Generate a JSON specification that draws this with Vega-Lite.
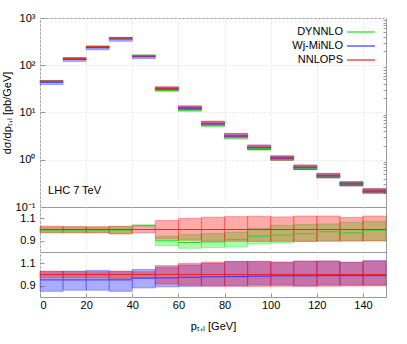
{
  "$schema": "https://vega.github.io/schema/vega-lite/v6.json",
  "padding": {"left": 0, "top": 11, "right": 5, "bottom": 5},
  "spacing": 0,
  "bounds": "flush",
  "config": {
    "font": "Liberation Sans",
    "view": {"stroke": "#999999", "strokeWidth": 1},
    "axis": {"labelFontSize": 11, "titleFontSize": 11, "titleFontWeight": "normal", "labelColor": "#000", "titleColor": "#000", "gridColor": "#e4e4e4", "gridDash": [2, 2], "tickColor": "#999", "domain": false, "labelOverlap": false},
    "legend": {"labelFontSize": 11, "labelColor": "#000"}
  },
  "resolve": {"scale": {"stroke": "independent", "fill": "independent"}, "legend": {"stroke": "independent", "fill": "independent"}},
  "datasets": {
    "h": [
      {"lo": 0, "hi": 10, "s": "DYNNLO", "y": 45.77, "ylo": 44.85, "yhi": 46.92, "r": 0.995, "rlo": 0.975, "rhi": 1.02},
      {"lo": 10, "hi": 20, "s": "DYNNLO", "y": 139.3, "ylo": 136.5, "yhi": 142.8, "r": 0.995, "rlo": 0.975, "rhi": 1.02},
      {"lo": 20, "hi": 30, "s": "DYNNLO", "y": 245.8, "ylo": 240.8, "yhi": 251.9, "r": 0.995, "rlo": 0.975, "rhi": 1.02},
      {"lo": 30, "hi": 40, "s": "DYNNLO", "y": 376.1, "ylo": 364.8, "yhi": 387.5, "r": 0.995, "rlo": 0.965, "rhi": 1.025},
      {"lo": 40, "hi": 50, "s": "DYNNLO", "y": 162.7, "ylo": 161.7, "yhi": 163.6, "r": 1.036, "rlo": 1.03, "rhi": 1.042},
      {"lo": 50, "hi": 60, "s": "DYNNLO", "y": 29.25, "ylo": 27.85, "yhi": 30.55, "r": 0.9, "rlo": 0.857, "rhi": 0.94},
      {"lo": 60, "hi": 70, "s": "DYNNLO", "y": 11.15, "ylo": 10.5, "yhi": 12.03, "r": 0.885, "rlo": 0.833, "rhi": 0.955},
      {"lo": 70, "hi": 80, "s": "DYNNLO", "y": 5.251, "ylo": 4.956, "yhi": 5.694, "r": 0.89, "rlo": 0.84, "rhi": 0.965},
      {"lo": 80, "hi": 90, "s": "DYNNLO", "y": 2.939, "ylo": 2.729, "yhi": 3.152, "r": 0.91, "rlo": 0.845, "rhi": 0.976},
      {"lo": 90, "hi": 100, "s": "DYNNLO", "y": 1.72, "ylo": 1.592, "yhi": 1.848, "r": 0.94, "rlo": 0.87, "rhi": 1.01},
      {"lo": 100, "hi": 110, "s": "DYNNLO", "y": 1.0355, "ylo": 0.9592, "yhi": 1.129, "r": 0.95, "rlo": 0.88, "rhi": 1.036},
      {"lo": 110, "hi": 120, "s": "DYNNLO", "y": 0.6652, "ylo": 0.6169, "yhi": 0.7211, "r": 0.964, "rlo": 0.894, "rhi": 1.045},
      {"lo": 120, "hi": 130, "s": "DYNNLO", "y": 0.4508, "ylo": 0.414, "yhi": 0.483, "r": 0.98, "rlo": 0.9, "rhi": 1.05},
      {"lo": 130, "hi": 140, "s": "DYNNLO", "y": 0.3007, "ylo": 0.279, "yhi": 0.3298, "r": 0.97, "rlo": 0.9, "rhi": 1.064},
      {"lo": 140, "hi": 150, "s": "DYNNLO", "y": 0.2167, "ylo": 0.1962, "yhi": 0.2339, "r": 0.994, "rlo": 0.9, "rhi": 1.073},
      {"lo": 0, "hi": 10, "s": "Wj-MiNLO", "y": 43.79, "ylo": 39.1, "yhi": 47.24, "r": 0.952, "rlo": 0.85, "rhi": 1.027},
      {"lo": 10, "hi": 20, "s": "Wj-MiNLO", "y": 133.3, "ylo": 120.4, "yhi": 144.2, "r": 0.952, "rlo": 0.86, "rhi": 1.03},
      {"lo": 20, "hi": 30, "s": "Wj-MiNLO", "y": 235.1, "ylo": 212.4, "yhi": 255.9, "r": 0.952, "rlo": 0.86, "rhi": 1.036},
      {"lo": 30, "hi": 40, "s": "Wj-MiNLO", "y": 359.9, "ylo": 321.3, "yhi": 388.2, "r": 0.952, "rlo": 0.85, "rhi": 1.027},
      {"lo": 40, "hi": 50, "s": "Wj-MiNLO", "y": 151.8, "ylo": 138.2, "yhi": 164.1, "r": 0.967, "rlo": 0.88, "rhi": 1.045},
      {"lo": 50, "hi": 60, "s": "Wj-MiNLO", "y": 31.53, "ylo": 28.93, "yhi": 34.68, "r": 0.97, "rlo": 0.89, "rhi": 1.067},
      {"lo": 60, "hi": 70, "s": "Wj-MiNLO", "y": 12.3, "ylo": 11.26, "yhi": 13.67, "r": 0.976, "rlo": 0.894, "rhi": 1.085},
      {"lo": 70, "hi": 80, "s": "Wj-MiNLO", "y": 5.782, "ylo": 5.31, "yhi": 6.49, "r": 0.98, "rlo": 0.9, "rhi": 1.1},
      {"lo": 80, "hi": 90, "s": "Wj-MiNLO", "y": 3.172, "ylo": 2.907, "yhi": 3.611, "r": 0.982, "rlo": 0.9, "rhi": 1.118},
      {"lo": 90, "hi": 100, "s": "Wj-MiNLO", "y": 1.8026, "ylo": 1.658, "yhi": 2.04, "r": 0.985, "rlo": 0.906, "rhi": 1.115},
      {"lo": 100, "hi": 110, "s": "Wj-MiNLO", "y": 1.0769, "ylo": 0.9875, "yhi": 1.2055, "r": 0.988, "rlo": 0.906, "rhi": 1.106},
      {"lo": 110, "hi": 120, "s": "Wj-MiNLO", "y": 0.6817, "ylo": 0.621, "yhi": 0.7714, "r": 0.988, "rlo": 0.9, "rhi": 1.118},
      {"lo": 120, "hi": 130, "s": "Wj-MiNLO", "y": 0.4554, "ylo": 0.4168, "yhi": 0.5152, "r": 0.99, "rlo": 0.906, "rhi": 1.12},
      {"lo": 130, "hi": 140, "s": "Wj-MiNLO", "y": 0.3069, "ylo": 0.2809, "yhi": 0.3441, "r": 0.99, "rlo": 0.906, "rhi": 1.11},
      {"lo": 140, "hi": 150, "s": "Wj-MiNLO", "y": 0.2158, "ylo": 0.1975, "yhi": 0.245, "r": 0.99, "rlo": 0.906, "rhi": 1.124},
      {"lo": 0, "hi": 10, "s": "NNLOPS", "y": 46, "ylo": 44.62, "yhi": 47.38, "r": 1, "rlo": 0.97, "rhi": 1.03},
      {"lo": 10, "hi": 20, "s": "NNLOPS", "y": 140, "ylo": 135.8, "yhi": 143.78, "r": 1, "rlo": 0.97, "rhi": 1.027},
      {"lo": 20, "hi": 30, "s": "NNLOPS", "y": 247, "ylo": 239.59, "yhi": 253.18, "r": 1, "rlo": 0.97, "rhi": 1.025},
      {"lo": 30, "hi": 40, "s": "NNLOPS", "y": 378, "ylo": 362.88, "yhi": 389.34, "r": 1, "rlo": 0.96, "rhi": 1.03},
      {"lo": 40, "hi": 50, "s": "NNLOPS", "y": 157, "ylo": 152.29, "yhi": 160.93, "r": 1, "rlo": 0.97, "rhi": 1.025},
      {"lo": 50, "hi": 60, "s": "NNLOPS", "y": 32.5, "ylo": 29.74, "yhi": 35.1, "r": 1, "rlo": 0.915, "rhi": 1.08},
      {"lo": 60, "hi": 70, "s": "NNLOPS", "y": 12.6, "ylo": 11.4, "yhi": 13.86, "r": 1, "rlo": 0.905, "rhi": 1.1},
      {"lo": 70, "hi": 80, "s": "NNLOPS", "y": 5.9, "ylo": 5.28, "yhi": 6.55, "r": 1, "rlo": 0.895, "rhi": 1.11},
      {"lo": 80, "hi": 90, "s": "NNLOPS", "y": 3.23, "ylo": 2.891, "yhi": 3.601, "r": 1, "rlo": 0.895, "rhi": 1.115},
      {"lo": 90, "hi": 100, "s": "NNLOPS", "y": 1.83, "ylo": 1.636, "yhi": 2.046, "r": 1, "rlo": 0.894, "rhi": 1.118},
      {"lo": 100, "hi": 110, "s": "NNLOPS", "y": 1.09, "ylo": 0.9756, "yhi": 1.212, "r": 1, "rlo": 0.895, "rhi": 1.112},
      {"lo": 110, "hi": 120, "s": "NNLOPS", "y": 0.69, "ylo": 0.6169, "yhi": 0.7728, "r": 1, "rlo": 0.894, "rhi": 1.12},
      {"lo": 120, "hi": 130, "s": "NNLOPS", "y": 0.46, "ylo": 0.4117, "yhi": 0.5152, "r": 1, "rlo": 0.895, "rhi": 1.12},
      {"lo": 130, "hi": 140, "s": "NNLOPS", "y": 0.31, "ylo": 0.2781, "yhi": 0.3435, "r": 1, "rlo": 0.897, "rhi": 1.108},
      {"lo": 140, "hi": 150, "s": "NNLOPS", "y": 0.218, "ylo": 0.1958, "yhi": 0.2442, "r": 1, "rlo": 0.898, "rhi": 1.12}
    ]
  },
  "vconcat": [
    {
      "width": 346,
      "height": 189,
      "data": {"name": "h"},
      "resolve": {"axis": {"y": "independent"}},
      "layer": [
        {
          "mark": {"type": "rect", "fillOpacity": 0.33, "strokeOpacity": 0.35, "strokeWidth": 1},
          "encoding": {
            "x": {"field": "lo", "type": "quantitative", "scale": {"domain": [0, 150], "nice": false, "zero": false},
                  "axis": {"values": [0, 20, 40, 60, 80, 100, 120, 140], "labels": false, "ticks": false, "grid": true, "title": null}},
            "x2": {"field": "hi"},
            "y": {"field": "ylo", "type": "quantitative", "scale": {"type": "log", "domain": [0.1, 1000], "nice": false},
                  "axis": {"orient": "left", "values": [0.1, 1, 10, 100, 1000], "tickSize": -5, "labelPadding": 10, "grid": true,
                           "labelExpr": "datum.value == 1000 ? '10³' : datum.value == 100 ? '10²' : datum.value == 10 ? '10¹' : datum.value == 1 ? '10⁰' : '10⁻¹'",
                           "title": "dσ/dpₜ,ₗ [pb/GeV]", "titlePadding": 3}},
            "y2": {"field": "yhi"},
            "fill": {"field": "s", "type": "nominal", "scale": {"domain": ["DYNNLO", "Wj-MiNLO", "NNLOPS"], "range": ["#00ff00", "#0000ff", "#ff0000"]}, "legend": null},
            "stroke": {"field": "s", "type": "nominal", "scale": {"domain": ["DYNNLO", "Wj-MiNLO", "NNLOPS"], "range": ["#22dd22", "#3333ff", "#ee2222"]}, "legend": null}
          }
        },
        {
          "mark": {"type": "rule", "strokeWidth": 1},
          "encoding": {
            "x": {"field": "lo", "type": "quantitative"},
            "x2": {"field": "hi"},
            "y": {"field": "y", "type": "quantitative",
                  "axis": {"orient": "right", "values": [0.2, 0.3, 0.4, 0.5, 0.6, 0.7, 0.8, 0.9, 2, 3, 4, 5, 6, 7, 8, 9, 20, 30, 40, 50, 60, 70, 80, 90, 200, 300, 400, 500, 600, 700, 800, 900], "labels": false, "tickSize": -3, "grid": false, "title": null}},
            "color": {"field": "s", "type": "nominal", "scale": {"domain": ["DYNNLO", "Wj-MiNLO", "NNLOPS"], "range": ["#22dd22", "#3333ff", "#ee2222"]},
                       "legend": {"orient": "none", "legendX": 312, "legendY": 5, "title": null, "symbolType": "M-1.75,0H1.75", "symbolSize": 256, "symbolStrokeWidth": 1.2, "labelAlign": "right", "labelOffset": -27, "labelFontSize": 11, "rowPadding": 0,
                                  "encode": {"symbols": {"update": {"stroke": {"scale": "color", "field": "value"}, "fill": {"value": "transparent"}}}}}}
          }
        },
        {
          "data": {"values": [{}]},
          "mark": {"type": "text", "text": "LHC 7 TeV", "align": "left", "baseline": "middle", "fontSize": 11, "color": "#000"},
          "encoding": {
            "x": {"datum": 3.5, "type": "quantitative"},
            "y": {"datum": 0.218, "type": "quantitative", "axis": null}
          }
        }
      ]
    },
    {
      "width": 346,
      "height": 45,
      "data": {"name": "h"},
      "transform": [{"filter": "datum.s != 'Wj-MiNLO'"}],
      "layer": [
        {
          "mark": {"type": "rect", "fillOpacity": 0.33, "strokeOpacity": 0.35, "strokeWidth": 1},
          "encoding": {
            "x": {"field": "lo", "type": "quantitative", "scale": {"domain": [0, 150], "nice": false, "zero": false},
                  "axis": {"values": [0, 20, 40, 60, 80, 100, 120, 140], "labels": false, "ticks": false, "grid": true, "title": null}},
            "x2": {"field": "hi"},
            "y": {"field": "rlo", "type": "quantitative", "scale": {"domain": [0.8, 1.2], "nice": false, "zero": false},
                  "axis": {"values": [0.9, 1, 1.1], "format": "~g", "tickSize": -4, "labelPadding": 9, "grid": false, "title": null}},
            "y2": {"field": "rhi"},
            "fill": {"field": "s", "type": "nominal", "scale": {"domain": ["DYNNLO", "Wj-MiNLO", "NNLOPS"], "range": ["#00ff00", "#0000ff", "#ff0000"]}, "legend": null},
            "stroke": {"field": "s", "type": "nominal", "scale": {"domain": ["DYNNLO", "Wj-MiNLO", "NNLOPS"], "range": ["#22dd22", "#3333ff", "#ee2222"]}, "legend": null}
          }
        },
        {
          "mark": {"type": "rule", "strokeWidth": 1},
          "encoding": {
            "x": {"field": "lo", "type": "quantitative"},
            "x2": {"field": "hi"},
            "y": {"field": "r", "type": "quantitative"},
            "stroke": {"field": "s", "type": "nominal", "scale": {"domain": ["DYNNLO", "Wj-MiNLO", "NNLOPS"], "range": ["#22dd22", "#3333ff", "#ee2222"]}, "legend": null}
          }
        }
      ]
    },
    {
      "width": 346,
      "height": 45,
      "data": {"name": "h"},
      "transform": [{"filter": "datum.s != 'DYNNLO'"}],
      "layer": [
        {
          "mark": {"type": "rect", "fillOpacity": 0.33, "strokeOpacity": 0.35, "strokeWidth": 1},
          "encoding": {
            "x": {"field": "lo", "type": "quantitative", "scale": {"domain": [0, 150], "nice": false, "zero": false},
                  "axis": {"values": [0, 20, 40, 60, 80, 100, 120, 140], "tickSize": -4, "labelPadding": 6, "grid": true, "title": "pₜ,ₗ [GeV]", "titlePadding": 10}},
            "x2": {"field": "hi"},
            "y": {"field": "rlo", "type": "quantitative", "scale": {"domain": [0.8, 1.2], "nice": false, "zero": false},
                  "axis": {"values": [0.9, 1, 1.1], "format": "~g", "tickSize": -4, "labelPadding": 9, "grid": false, "title": null}},
            "y2": {"field": "rhi"},
            "fill": {"field": "s", "type": "nominal", "scale": {"domain": ["DYNNLO", "Wj-MiNLO", "NNLOPS"], "range": ["#00ff00", "#0000ff", "#ff0000"]}, "legend": null},
            "stroke": {"field": "s", "type": "nominal", "scale": {"domain": ["DYNNLO", "Wj-MiNLO", "NNLOPS"], "range": ["#22dd22", "#3333ff", "#ee2222"]}, "legend": null}
          }
        },
        {
          "mark": {"type": "rule", "strokeWidth": 1},
          "encoding": {
            "x": {"field": "lo", "type": "quantitative"},
            "x2": {"field": "hi"},
            "y": {"field": "r", "type": "quantitative"},
            "stroke": {"field": "s", "type": "nominal", "scale": {"domain": ["DYNNLO", "Wj-MiNLO", "NNLOPS"], "range": ["#22dd22", "#3333ff", "#ee2222"]}, "legend": null}
          }
        }
      ]
    }
  ]
}
